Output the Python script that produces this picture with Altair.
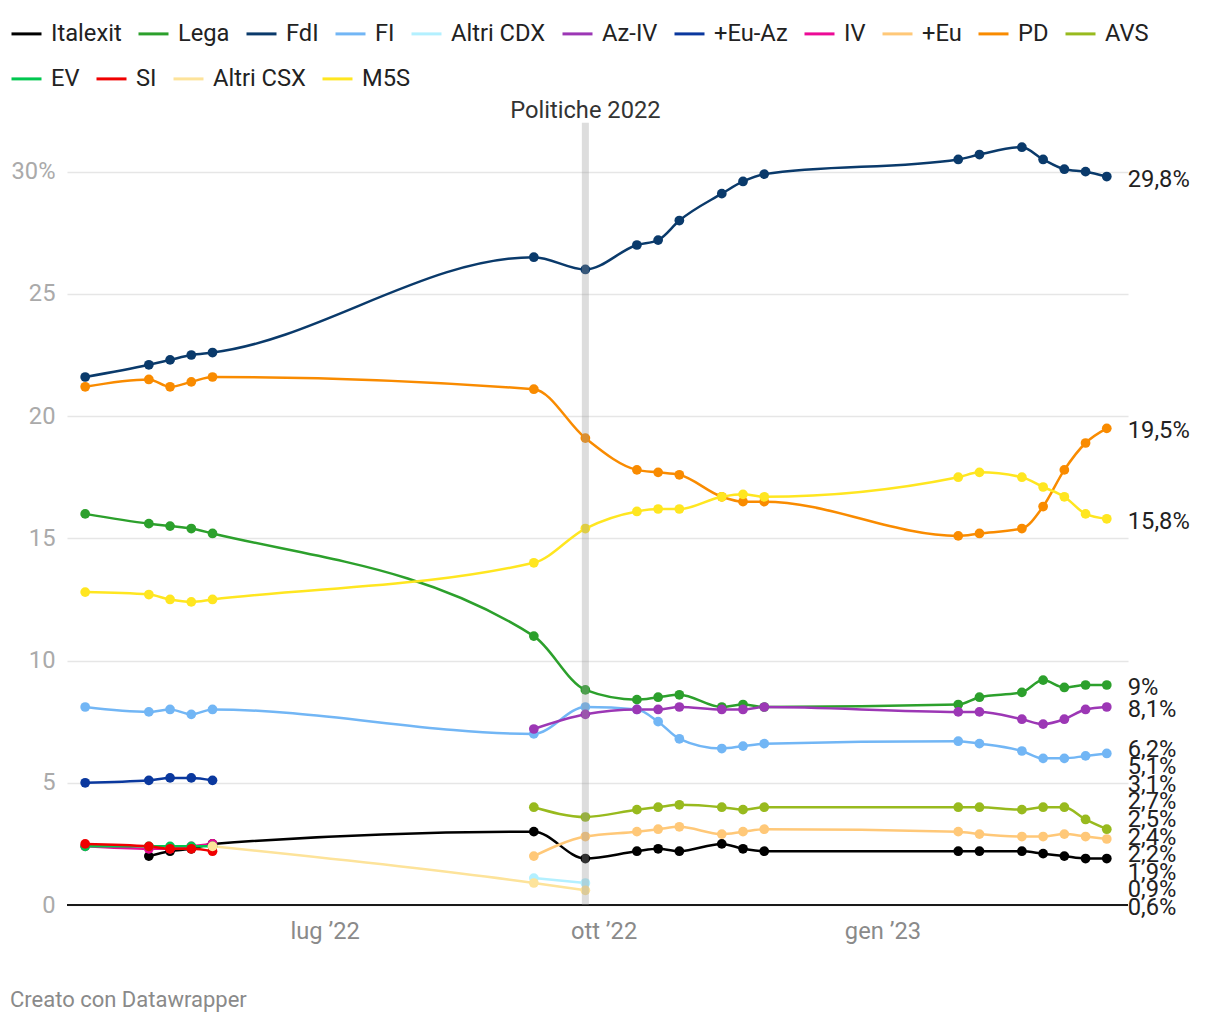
import altair as alt
import pandas as pd

# ---------------- data ----------------
dates = ["2022-04-13", "2022-05-04", "2022-05-11", "2022-05-18", "2022-05-25",
         "2022-09-08", "2022-09-25", "2022-10-12", "2022-10-19", "2022-10-26",
         "2022-11-09", "2022-11-16", "2022-11-23", "2023-01-26", "2023-02-02",
         "2023-02-16", "2023-02-23", "2023-03-02", "2023-03-09", "2023-03-16"]

N = None
italexit = [N, 2.0, 2.2, 2.3, 2.5, 3.0, 1.9, 2.2, 2.3, 2.2, 2.5, 2.3, 2.2, 2.2, 2.2, 2.2, 2.1, 2.0, 1.9, 1.9]
lega = [16.0, 15.6, 15.5, 15.4, 15.2, 11.0, 8.8, 8.4, 8.5, 8.6, 8.1, 8.2, 8.1, 8.2, 8.5, 8.7, 9.2, 8.9, 9.0, 9.0]
fdi = [21.6, 22.1, 22.3, 22.5, 22.6, 26.5, 26.0, 27.0, 27.2, 28.0, 29.1, 29.6, 29.9, 30.5, 30.7, 31.0, 30.5, 30.1, 30.0, 29.8]
fi = [8.1, 7.9, 8.0, 7.8, 8.0, 7.0, 8.1, 8.0, 7.5, 6.8, 6.4, 6.5, 6.6, 6.7, 6.6, 6.3, 6.0, 6.0, 6.1, 6.2]
altri_cdx = [N, N, N, N, N, 1.1, 0.9, N, N, N, N, N, N, N, N, N, N, N, N, N]
az_iv = [N, N, N, N, N, 7.2, 7.8, 8.0, 8.0, 8.1, 8.0, 8.0, 8.1, 7.9, 7.9, 7.6, 7.4, 7.6, 8.0, 8.1]
eu_az = [5.0, 5.1, 5.2, 5.2, 5.1, N, N, N, N, N, N, N, N, N, N, N, N, N, N, N]
iv = [2.4, 2.3, 2.3, 2.4, 2.5, N, N, N, N, N, N, N, N, N, N, N, N, N, N, N]
piu_eu = [N, N, N, N, N, 2.0, 2.8, 3.0, 3.1, 3.2, 2.9, 3.0, 3.1, 3.0, 2.9, 2.8, 2.8, 2.9, 2.8, 2.7]
pd_ = [21.2, 21.5, 21.2, 21.4, 21.6, 21.1, 19.1, 17.8, 17.7, 17.6, 16.7, 16.5, 16.5, 15.1, 15.2, 15.4, 16.3, 17.8, 18.9, 19.5]
avs = [N, N, N, N, N, 4.0, 3.6, 3.9, 4.0, 4.1, 4.0, 3.9, 4.0, 4.0, 4.0, 3.9, 4.0, 4.0, 3.5, 3.1]
ev = [2.4, 2.4, 2.4, 2.4, 2.4, N, N, N, N, N, N, N, N, N, N, N, N, N, N, N]
si = [2.5, 2.4, 2.3, 2.3, 2.2, N, N, N, N, N, N, N, N, N, N, N, N, N, N, N]
altri_csx = [N, N, N, N, 2.4, 0.9, 0.6, N, N, N, N, N, N, N, N, N, N, N, N, N]
m5s = [12.8, 12.7, 12.5, 12.4, 12.5, 14.0, 15.4, 16.1, 16.2, 16.2, 16.7, 16.8, 16.7, 17.5, 17.7, 17.5, 17.1, 16.7, 16.0, 15.8]

series_names = ["Italexit", "Lega", "FdI", "FI", "Altri CDX", "Az-IV", "+Eu-Az", "IV",
                "+Eu", "PD", "AVS", "EV", "SI", "Altri CSX", "M5S"]
series_values = [italexit, lega, fdi, fi, altri_cdx, az_iv, eu_az, iv,
                 piu_eu, pd_, avs, ev, si, altri_csx, m5s]
series_colors = ["#000000", "#2ca02c", "#0a3a6b", "#72b6f5", "#b3f0ff", "#9c37b5", "#0a389e", "#ec0a96",
                 "#ffc878", "#f98b00", "#98ba1e", "#00c74f", "#f00000", "#fde39a", "#ffe620"]
legend_row_sizes = [11, 4]

x_tick_dates = ["2022-07-01", "2022-10-01", "2023-01-01"]
x_tick_labels = ["lug \u201922", "ott \u201922", "gen \u201923"]
y_ticks = [0, 5, 10, 15, 20, 25, 30]
y_tick_labels = ["0", "5", "10", "15", "20", "25", "30%"]

event_date = "2022-09-25"
event_label = "Politiche 2022"
footer = "Creato con Datawrapper"

x_domain = ["2022-04-07", "2023-03-23"]
y_domain = [0, 31.5]

# ---------------- tables ----------------
rows = []
for name, vals in zip(series_names, series_values):
    for d, v in zip(dates, vals):
        if v is not None:
            rows.append({"date": d, "series": name, "value": v})
df = pd.DataFrame(rows)


def fmt(v):
    if abs(v - round(v)) < 1e-9:
        return f"{int(round(v))}%"
    return f"{v:.1f}".replace(".", ",") + "%"


# end labels with simple collision avoidance (in data units), not below the baseline
last = []
for name, vals in zip(series_names, series_values):
    lv = [v for v in vals if v is not None][-1]
    last.append({"series": name, "value": lv, "text": fmt(lv)})
last.sort(key=lambda r: -r["value"])
GAP = 0.72
FLOOR = 0.0
clusters = [[r] for r in last]


def positions(cl):
    mean = sum(r["value"] for r in cl) / len(cl)
    top = mean + (len(cl) - 1) * GAP / 2
    bottom = top - (len(cl) - 1) * GAP
    if bottom < FLOOR:
        top += FLOOR - bottom
    return [top - i * GAP for i in range(len(cl))]


changed = True
while changed:
    changed = False
    for i in range(len(clusters) - 1):
        a = positions(clusters[i])[-1]
        b = positions(clusters[i + 1])[0]
        if a - b < GAP:
            clusters[i] = clusters[i] + clusters[i + 1]
            del clusters[i + 1]
            changed = True
            break
for cl in clusters:
    for r, p in zip(cl, positions(cl)):
        r["label_y"] = p
labels_df = pd.DataFrame(last)
labels_df["date"] = dates[-1]

label_map = "{" + ",".join(f"'{d}':'{l}'" for d, l in zip(x_tick_dates, x_tick_labels)) + "}"
ylabel_map = "{" + ",".join(f"'{t}':'{l}'" for t, l in zip(y_ticks, y_tick_labels)) + "}"

FONT = "Roboto"
FS = 23.7

x_enc = alt.X("date:T", scale=alt.Scale(type="utc", domain=x_domain),
              axis=alt.Axis(values=[pd.Timestamp(d).value // 10**6 for d in x_tick_dates],
                            labelExpr=label_map + "[utcFormat(datum.value, '%Y-%m-%d')]",
                            title=None, grid=False, domain=False, ticks=False,
                            labelFont=FONT, labelFontSize=FS, labelColor="#8a8a8a",
                            labelPadding=14))
y_enc = alt.Y("value:Q", scale=alt.Scale(domain=y_domain, nice=False, zero=True),
              axis=alt.Axis(values=y_ticks, labelExpr=ylabel_map + "[datum.value]",
                            title=None, grid=True, gridColor="#e6e6e6", gridWidth=1.6,
                            domain=False, ticks=False, labelFont=FONT, labelFontSize=FS,
                            labelColor="#aaaaaa", labelPadding=12))

# legend split into two rows -> two independent colour scales
line_layers = []
start = 0
for row_i, n in enumerate(legend_row_sizes):
    names = series_names[start:start + n]
    cols = series_colors[start:start + n]
    start += n
    sub = df[df["series"].isin(names)]
    color_enc = alt.Color(
        "series:N",
        scale=alt.Scale(domain=names, range=cols),
        legend=alt.Legend(orient="none", legendX=-57, legendY=-118 + 45 * row_i,
                          direction="horizontal", columns=n,
                          symbolType="stroke", symbolSize=900, symbolStrokeWidth=3,
                          labelFont=FONT, labelFontSize=FS, labelColor="#222222",
                          labelOffset=8, columnPadding=10, padding=0,
                          labelLimit=400, title=None))
    line_layers.append(
        alt.Chart(sub).mark_line(
            interpolate="monotone", strokeWidth=2.5,
            point=alt.OverlayMarkDef(size=95, filled=True, opacity=1)
        ).encode(x=x_enc, y=y_enc, color=color_enc, order=alt.Order("date:T"))
    )

baseline = alt.Chart(pd.DataFrame({"v": [0]})).mark_rule(color="#1a1a1a", strokeWidth=2).encode(
    y=alt.datum(0))

band = alt.Chart(pd.DataFrame({"date": [event_date], "y0": [0], "y1": [32.0]})).mark_rule(
    color="#999999", opacity=0.33, strokeWidth=7).encode(
    x=alt.X("date:T"), y=alt.Y("y0:Q"), y2="y1:Q")

event_text = alt.Chart(pd.DataFrame({"date": [event_date], "y": [32.5], "t": [event_label]})).mark_text(
    font=FONT, fontSize=FS, color="#333333", align="center", baseline="middle").encode(
    x=alt.X("date:T"), y=alt.Y("y:Q"), text="t:N")

end_labels = alt.Chart(labels_df).mark_text(
    font=FONT, fontSize=FS, color="#222222", align="left", baseline="middle", dx=21, dy=3).encode(
    x=alt.X("date:T"), y=alt.Y("label_y:Q"), text="text:N")

chart = alt.layer(baseline, *line_layers, band, event_text, end_labels).resolve_scale(
    color="independent"
).properties(
    width=1061, height=770,
    padding={"left": 2, "top": 9, "right": 2, "bottom": 5},
    title=alt.TitleParams(footer, orient="bottom", anchor="start", offset=47,
                          font=FONT, fontSize=22, fontWeight="normal", color="#8a8a8a"),
).configure_view(stroke=None)

chart.save("out.html", embed_options={"renderer": "svg", "actions": False})
